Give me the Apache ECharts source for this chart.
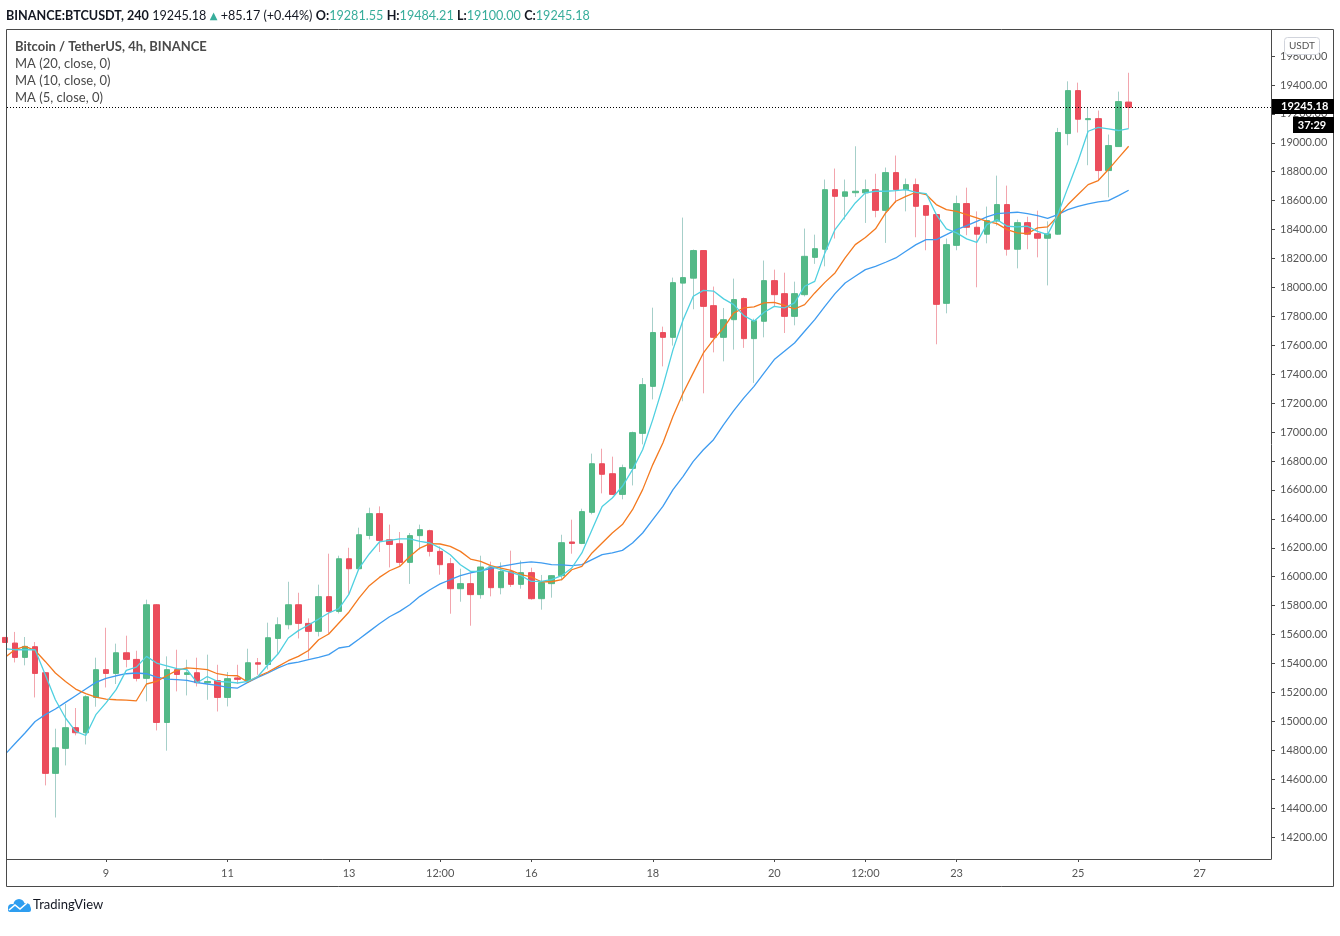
<!DOCTYPE html>
<html>
<head>
<meta charset="utf-8">
<title>BTCUSDT 4h</title>
<script src="https://cdn.jsdelivr.net/npm/echarts@6/dist/echarts.min.js"></script>
<style>
    html, body { margin: 0; padding: 0; background: #fff; }
    #chart { width: 1340px; height: 936px; }
</style>
</head>
<body>
<div id="chart"></div>
<script>
// 4h candles, Nov 7 08:00 -> Nov 25 20:00 (index 0 = Nov 7 08:00)
const opens = [15580,15541,15442,15516,15336,14640,14813,14956,14921,15165,
    15357,15331,15474,15428,15297,15806,14992,15357,15324,15336,
    15267,15281,15165,15300,15281,15405,15393,15573,15668,15806,
    15677,15622,15862,15760,16124,16055,16285,16436,16255,16228,
    16099,16284,16318,16175,16090,15917,15952,15876,16067,15924,
    16035,15947,16028,15848,15952,16007,16240,16230,16445,16781,
    16712,16569,16749,16991,17316,17688,17655,18030,18064,18255,
    17874,17655,17777,17923,17646,17766,18047,17957,17800,17950,
    18208,18264,18676,18630,18655,18654,18676,18533,18794,18676,
    18711,18566,18504,17890,18291,18580,18416,18368,18459,18573,
    18264,18448,18372,18340,18368,19064,19361,19160,19167,18808,
    18974,19281.55];

const closes = [15545,15442,15518,15331,14640,14817,14956,14921,15170,15357,
    15331,15474,15428,15297,15806,14992,15357,15324,15336,15267,
    15275,15165,15295,15290,15405,15395,15578,15668,15806,15677,
    15622,15862,15760,16124,16055,16290,16436,16251,16223,16099,
    16284,16325,16175,16083,15917,15952,15876,16067,15924,16035,
    15947,16028,15848,15959,16007,16235,16230,16450,16781,16708,
    16569,16754,16996,17328,17688,17655,18033,18068,18255,17869,
    17655,17777,17916,17646,17770,18047,17950,17800,17957,18215,
    18268,18676,18630,18661,18665,18676,18533,18794,18676,18711,
    18561,18499,17883,18296,18580,18416,18368,18462,18573,18264,
    18448,18368,18340,18370,19071,19361,19163,19167,18808,18981,
    19285,19245.18];

const lows = [15530,15407,15387,15165,14557,14335,14695,14903,14840,15101,
    15234,15258,15373,15276,15138,14937,14797,15207,15179,15241,
    15149,15068,15103,15258,15270,15322,15359,15467,15636,15573,
    15433,15587,15604,15746,15880,16045,16258,16171,16064,16076,
    15950,16187,16140,16014,15744,15827,15661,15848,15864,15878,
    15929,15917,15841,15772,15855,15974,16159,16225,16431,16576,
    16569,16535,16631,16915,17226,17454,17598,17213,17849,17268,
    17551,17489,17570,17582,17340,17655,17869,17685,17738,17938,
    18163,18146,18338,18469,18626,18446,18485,18308,18585,18526,
    18347,18257,17607,17821,18257,18361,18001,18305,18427,18220,
    18132,18264,18208,18014,18365,18983,19071,18845,18739,18623,
    18974,19100];

const highs = [15610,15618,15583,15548,15340,14949,15120,15092,15180,15440,
    15647,15537,15592,15488,15841,15810,15449,15495,15426,15440,
    15461,15391,15341,15391,15502,15438,15682,15719,15965,15889,
    15712,15945,16159,16145,16200,16339,16477,16486,16360,16309,
    16302,16360,16325,16210,16129,16055,16026,16145,16104,16099,
    16180,16111,16062,16012,16010,16290,16394,16470,16851,16885,
    16830,16775,17003,17374,17860,17729,18068,18483,18262,18258,
    18006,17858,18061,17930,17784,18186,18123,18102,18040,18407,
    18365,18746,18822,18746,18976,18746,18786,18829,18912,18753,
    18753,18570,18508,18338,18635,18690,18526,18559,18773,18704,
    18469,18489,18531,18457,19103,19425,19416,19248,19223,19057,
    19354,19484.21];

// moving averages
const ma5 = [15502,15495,15495,15495,15322,15149,15023,14930,14902,15046,
    15127,15219,15352,15375,15449,15403,15384,15364,15357,15267,
    15310,15276,15272,15265,15276,15310,15391,15467,15576,15627,
    15666,15707,15749,15779,15880,16060,16157,16240,16251,16261,
    16261,16244,16233,16198,16152,16083,16037,16037,16071,16048,
    16030,16007,15967,15967,15979,16007,16060,16164,16325,16486,
    16544,16625,16740,16878,17086,17316,17570,17777,17939,17980,
    17975,17921,17881,17805,17766,17828,17869,17858,17893,18008,
    18042,18239,18400,18492,18584,18654,18665,18665,18670,18676,
    18658,18649,18504,18405,18377,18336,18312,18434,18469,18423,
    18419,18423,18388,18365,18504,18690,18872,19080,19107,19096,
    19085,19098];

const ma10 = [15440,15495,15518,15490,15414,15334,15276,15223,15191,15168,
    15154,15149,15147,15142,15258,15276,15315,15352,15369,15364,
    15357,15329,15317,15315,15271,15310,15341,15380,15419,15449,
    15490,15564,15604,15680,15756,15853,15938,15995,16041,16071,
    16140,16198,16228,16226,16210,16175,16122,16106,16076,16060,
    16044,16014,15998,15965,15965,15979,16048,16071,16164,16233,
    16302,16360,16463,16602,16775,16925,17109,17270,17409,17547,
    17639,17720,17824,17858,17865,17893,17897,17876,17851,17881,
    17962,18035,18100,18204,18296,18345,18405,18515,18596,18630,
    18658,18642,18573,18538,18526,18504,18481,18457,18441,18400,
    18377,18372,18412,18419,18492,18573,18642,18711,18739,18815,
    18896,18976];

const ma20 = [14769,14845,14919,14999,15046,15085,15131,15177,15223,15269,
    15297,15315,15329,15334,15329,15306,15292,15288,15283,15267,
    15258,15248,15234,15230,15269,15304,15334,15369,15398,15410,
    15426,15442,15461,15507,15518,15569,15622,15675,15723,15760,
    15806,15864,15910,15950,15979,16007,16026,16041,16055,16071,
    16083,16095,16102,16095,16083,16081,16076,16083,16118,16152,
    16164,16182,16233,16302,16394,16486,16602,16694,16797,16878,
    16947,17051,17148,17236,17316,17409,17501,17558,17616,17697,
    17777,17869,17957,18031,18077,18123,18146,18174,18204,18250,
    18296,18331,18331,18365,18400,18428,18457,18488,18511,18515,
    18520,18511,18497,18478,18504,18538,18561,18578,18591,18600,
    18635,18672];

// time axis: candle index -> label
const timeTickIdx = [10, 22, 34, 43, 52, 64, 76, 85, 94, 106, 118];
const timeTickLabels = ['9', '11', '13', '12:00', '16', '18', '20', '12:00', '23', '25', '27'];

const priceTicks = [14200,14400,14600,14800,15000,15200,15400,15600,15800,16000,
    16200,16400,16600,16800,17000,17200,17400,17600,17800,18000,
    18200,18400,18600,18800,19000,19200,19400,19600];

const lastPrice = 19245.18;

const UP = '#53b987', DN = '#eb4d5c';
const WICK_UP = '#a6cfc9', WICK_DN = '#f2a5ad';
const AXIS = '#4a4a4a';
const FONT = 'Lato';

const timeLabelOf = {};
timeTickIdx.forEach((k, i) => { timeLabelOf[k] = timeTickLabels[i]; });

const wickData = opens.map((o, i) => [i, o, closes[i], lows[i], highs[i]]);
const bodyData = opens.map((o, i) => [i, o, closes[i], Math.min(o, closes[i]), Math.max(o, closes[i])]);

function maSeries(values, color) {
    return {
        type: 'line',
        data: values.map((v, i) => [i, v]),
        showSymbol: false,
        silent: true,
        z: 4,
        lineStyle: { color: color, width: 1.3 }
    };
}

const chart = echarts.init(document.getElementById('chart'));

chart.setOption({
    animation: false,
    backgroundColor: '#fff',
    grid: { left: 7, top: 30, width: 1264, height: 829 },
    xAxis: {
        type: 'value',
        min: 0.222,
        max: 125.06,
        axisLine: { show: true, lineStyle: { color: AXIS } },
        axisTick: { show: true, customValues: timeTickIdx, length: 3, lineStyle: { color: AXIS } },
        axisLabel: {
            customValues: timeTickIdx,
            formatter: v => timeLabelOf[v] || '',
            color: '#555', fontSize: 11, fontFamily: FONT, margin: 9
        },
        splitLine: { show: false }
    },
    yAxis: {
        type: 'value',
        position: 'right',
        min: 14048,
        max: 19780,
        axisLine: { show: true, lineStyle: { color: AXIS } },
        axisTick: { show: true, customValues: priceTicks, length: 4, lineStyle: { color: AXIS } },
        axisLabel: {
            customValues: priceTicks,
            formatter: v => v.toFixed(2),
            color: '#555', fontSize: 11, fontFamily: FONT, margin: 9
        },
        splitLine: { show: false }
    },
    series: [
        {
            type: 'candlestick',
            data: wickData,
            encode: { x: 0, y: [1, 2, 3, 4] },
            barWidth: 1,
            silent: true,
            z: 2,
            itemStyle: { color: WICK_UP, color0: WICK_DN, borderColor: WICK_UP, borderColor0: WICK_DN, borderWidth: 1 }
        },
        {
            type: 'candlestick',
            data: bodyData,
            encode: { x: 0, y: [1, 2, 3, 4] },
            barWidth: 6,
            silent: true,
            z: 3,
            itemStyle: { color: UP, color0: DN, borderColor: UP, borderColor0: DN, borderWidth: 1 },
            markLine: {
                symbol: 'none',
                silent: true,
                label: { show: false },
                lineStyle: { color: '#000', width: 1, type: [1, 2] },
                data: [{ yAxis: lastPrice }]
            }
        },
        maSeries(ma20, '#3f9cf0'),
        maSeries(ma10, '#f47a20'),
        maSeries(ma5, '#4fd0e0')
    ],
    graphic: [
        // outer frame
        { type: 'rect', shape: { x: 6.5, y: 29.5, width: 1327, height: 857 },
          style: { fill: 'none', stroke: AXIS, lineWidth: 1 }, z: 10 },
        // header line
        { type: 'text', x: 6, y: 16, z: 10, style: {
            text: '{b|BINANCE:BTCUSDT, 240} {n|19245.18} {g|▲} {n|+85.17 (+0.44%)} {b|O:}{v|19281.55} {b|H:}{v|19484.21} {b|L:}{v|19100.00} {b|C:}{v|19245.18}',
            verticalAlign: 'middle',
            rich: {
                b: { fontFamily: FONT, fontSize: 12.6, fontWeight: 'bold', fill: '#131722' },
                n: { fontFamily: FONT, fontSize: 12.6, fill: '#131722' },
                g: { fontFamily: 'DejaVu Sans', fontSize: 10, fill: '#38ad9b' },
                v: { fontFamily: FONT, fontSize: 12.6, fill: '#38ad9b' }
            }
        } },
        // legend
        { type: 'text', x: 15, y: 47, z: 10, style: { text: 'Bitcoin / TetherUS, 4h, BINANCE', verticalAlign: 'middle',
            fontFamily: FONT, fontSize: 13, fontWeight: 'bold', fill: '#4a4a4a' } },
        { type: 'text', x: 15, y: 64, z: 10, style: { text: 'MA (20, close, 0)', verticalAlign: 'middle',
            fontFamily: FONT, fontSize: 13, fill: '#4a4a4a' } },
        { type: 'text', x: 15, y: 81, z: 10, style: { text: 'MA (10, close, 0)', verticalAlign: 'middle',
            fontFamily: FONT, fontSize: 13, fill: '#4a4a4a' } },
        { type: 'text', x: 15, y: 98, z: 10, style: { text: 'MA (5, close, 0)', verticalAlign: 'middle',
            fontFamily: FONT, fontSize: 13, fill: '#4a4a4a' } },
        // currency badge
        { type: 'rect', shape: { x: 1284.5, y: 37.5, width: 35, height: 17, r: 3 }, z: 10,
          style: { fill: '#fff', stroke: '#d1d4dc', lineWidth: 1 } },
        { type: 'text', x: 1302, y: 46, z: 11, style: { text: 'USDT', align: 'center', verticalAlign: 'middle',
            fontFamily: FONT, fontSize: 10, fill: '#555' } },
        // last price tag + countdown
        { type: 'rect', shape: { x: 1272, y: 99, width: 62, height: 15 }, z: 10, style: { fill: '#000' } },
        { type: 'text', x: 1281, y: 106.5, z: 11, style: { text: '19245.18', verticalAlign: 'middle',
            fontFamily: FONT, fontSize: 11, fontWeight: 'bold', fill: '#fff' } },
        { type: 'rect', shape: { x: 1293, y: 117, width: 41, height: 16 }, z: 10, style: { fill: '#000' } },
        { type: 'text', x: 1312, y: 125, z: 11, style: { text: '37:29', align: 'center', verticalAlign: 'middle',
            fontFamily: FONT, fontSize: 11, fontWeight: 'bold', fill: '#fff' } },
        // TradingView mark (cloud with a zigzag)
        { type: 'circle', z: 10, shape: { cx: 12, cy: 908, r: 4 }, style: { fill: '#2e9ef0' } },
        { type: 'circle', z: 10, shape: { cx: 19, cy: 904.5, r: 5.5 }, style: { fill: '#2e9ef0' } },
        { type: 'circle', z: 10, shape: { cx: 26, cy: 907.5, r: 4.5 }, style: { fill: '#2e9ef0' } },
        { type: 'rect', z: 10, shape: { x: 8, y: 907, width: 23, height: 5, r: 2 }, style: { fill: '#2e9ef0' } },
        { type: 'polyline', z: 11, shape: { points: [[9, 910], [15, 905], [20, 909], [27, 903]] },
          style: { stroke: '#fff', lineWidth: 1.6, fill: 'none' } },
        { type: 'text', x: 33, y: 905, z: 10, style: { text: 'TradingView', verticalAlign: 'middle',
            fontFamily: FONT, fontSize: 13, fill: '#131722' } }
    ]
});
</script>
</body>
</html>
